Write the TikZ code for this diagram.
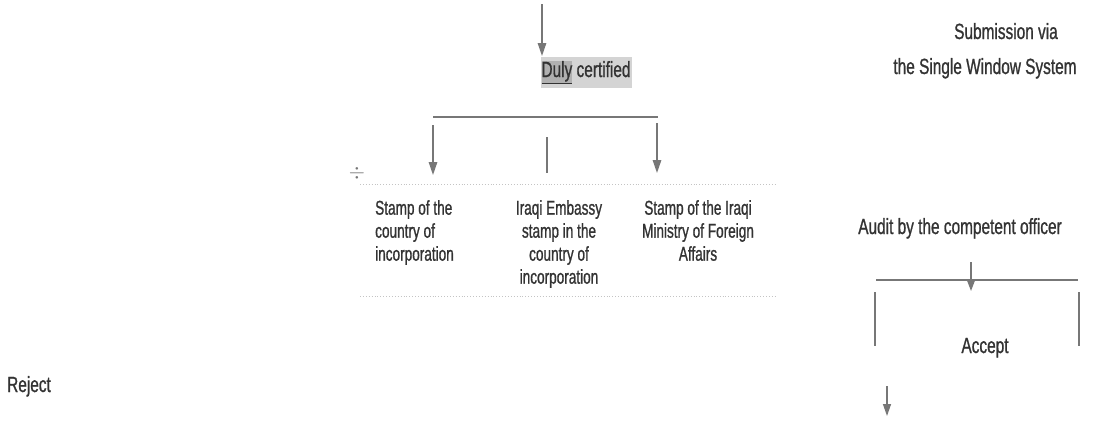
\documentclass[tikz,border=0pt]{standalone}
\usepackage{fontspec}
\setmainfont{Liberation Sans}
\newfontfamily\labelfont{Liberation Sans}[FakeStretch=0.70,FakeBold=0.9]
\newfontfamily\boxfontfam{Liberation Sans}[FakeStretch=0.68,FakeBold=0.9]
\usetikzlibrary{arrows.meta}
\definecolor{txtgray}{HTML}{333333}
\definecolor{lngray}{HTML}{777777}
\definecolor{hllight}{HTML}{D4D4D4}
\definecolor{hldark}{HTML}{B0B0B0}
\definecolor{dotgray}{HTML}{C4C4C4}
\begin{document}
\begin{tikzpicture}[x=1pt,y=-1pt,
  lbl/.style={font=\labelfont\fontsize{22}{26}\selectfont, text=txtgray, inner sep=0pt, anchor=base},
  boxtxt/.style={font=\boxfontfam\fontsize{20}{23}\selectfont, text=txtgray, inner sep=0pt},
  conn/.style={draw=lngray, line width=1.4pt, -{Triangle[width=8.5pt,length=13pt]}},
  plainln/.style={draw=lngray, line width=1.4pt},
  barln/.style={draw=lngray, line width=2.6pt},
  dotln/.style={draw=dotgray, line width=0.9pt, dotted}]
\useasboundingbox (0,0) rectangle (1095,423);
\fill[white] (0,0) rectangle (1095,423);

% ---- top branch ----
\coordinate (topstart) at (542,4);
\coordinate (topend) at (542,56);
\node[lbl, fill=hllight, inner xsep=1pt, inner ysep=4pt] (duly) at (586,77)
  {{\setlength{\fboxsep}{0pt}\colorbox{hldark}{\underline{Duly}}} certified};
\draw[conn] (topstart) -- (topend);

\coordinate (barL) at (433,117);
\coordinate (barR) at (658,117);
\draw[barln] (barL) -- (barR);

\coordinate (la1) at (433,125);
\coordinate (la2) at (433,175);
\coordinate (ma1) at (547,137);
\coordinate (ma2) at (547,173);
\coordinate (ra1) at (657,123);
\coordinate (ra2) at (657,173);
\draw[conn] (la1) -- (la2);
\draw[plainln] (ma1) -- (ma2);
\draw[conn] (ra1) -- (ra2);

\node[text=lngray, inner sep=0pt, font=\fontsize{20}{20}\selectfont] (divmark) at (357,173) {$\div$};

\coordinate (dt1) at (360,184);
\coordinate (dt2) at (775,184);
\coordinate (db1) at (360,296);
\coordinate (db2) at (775,296);
\draw[dotln] (dt1) -- (dt2);
\draw[dotln] (db1) -- (db2);

\node[boxtxt, anchor=north west, align=left] (stampA) at (375,200)
  {Stamp of the\\country of\\incorporation};
\node[boxtxt, anchor=north, align=center] (stampB) at (559,200)
  {Iraqi Embassy\\stamp in the\\country of\\incorporation};
\node[boxtxt, anchor=north, align=center] (stampC) at (698,200)
  {Stamp of the Iraqi\\Ministry of Foreign\\Affairs};

% ---- right side ----
\node[lbl] (sub1) at (1006,39) {Submission via};
\node[lbl] (sub2) at (985,74) {the Single Window System};
\node[lbl] (audit) at (960,234) {Audit by the competent officer};

\coordinate (rbarL) at (876,280);
\coordinate (rbarR) at (1078,280);
\draw[line width=2.2pt, draw=lngray] (rbarL) -- (rbarR);
\coordinate (xa1) at (971,262);
\coordinate (xa2) at (971,291);
\draw[draw=lngray, line width=1.3pt, -{Triangle[width=8pt,length=11pt]}] (xa1) -- (xa2);

\coordinate (vl1) at (875,292);
\coordinate (vl2) at (875,346);
\coordinate (vr1) at (1079,292);
\coordinate (vr2) at (1079,346);
\draw[plainln, line width=1.2pt] (vl1) -- (vl2);
\draw[plainln, line width=1.2pt] (vr1) -- (vr2);

\node[lbl] (accept) at (985,353) {Accept};

\coordinate (ba1) at (887,386);
\coordinate (ba2) at (887,416);
\draw[draw=lngray, line width=1.3pt, -{Triangle[width=8pt,length=12pt]}] (ba1) -- (ba2);

\node[lbl, anchor=base west] (reject) at (7,392) {Reject};
\end{tikzpicture}
\end{document}
